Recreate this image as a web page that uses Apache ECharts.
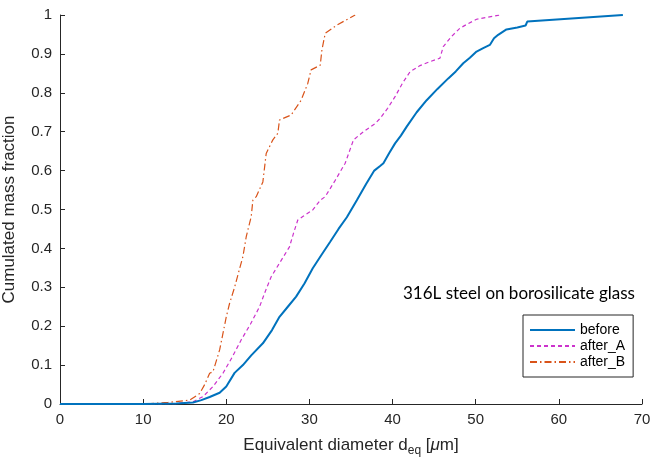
<!DOCTYPE html>
<html><head><meta charset="utf-8">
<script src="https://cdn.jsdelivr.net/npm/echarts@6/dist/echarts.min.js"></script>
<style>html,body{margin:0;padding:0;background:#fff}#c{width:650px;height:459px}</style>
</head><body><div id="c"></div>
<script>
const beforeX = [0, 5, 10, 14, 16, 17, 18, 19.2, 20, 21, 22, 23, 24.4, 25.5, 26.4, 27.4, 28.4, 29.4, 30.4, 31.5, 32.5, 33.5, 34.5, 35.7, 36.8, 37.8, 38.5, 38.9, 39.6, 40.3, 41, 41.7, 42.9, 44.1, 45.4, 46.7, 47.6, 48.5, 49.3, 50.1, 50.9, 51.7, 52.2, 52.7, 53.7, 55, 56.0, 56.2, 67.7];
const beforeY = [0, 0, 0, 0.001, 0.004, 0.01, 0.018, 0.029, 0.045, 0.08, 0.1, 0.125, 0.156, 0.19, 0.224, 0.25, 0.276, 0.31, 0.349, 0.385, 0.417, 0.45, 0.48, 0.524, 0.565, 0.6, 0.612, 0.619, 0.645, 0.67, 0.69, 0.713, 0.75, 0.781, 0.81, 0.837, 0.855, 0.876, 0.89, 0.906, 0.915, 0.923, 0.94, 0.949, 0.963, 0.968, 0.973, 0.983, 1.0];
const afterAX = [0, 10, 14, 16, 17.2, 18.4, 19.6, 20.7, 21.8, 22.9, 24.0, 24.7, 25.4, 26.4, 27.6, 28.1, 28.6, 29.2, 30.4, 31.3, 31.9, 33.1, 34.3, 35.3, 36.5, 37.9, 38.5, 39.4, 40.3, 41.2, 42.1, 43.3, 44.5, 45.7, 46.1, 47.1, 48.1, 49.1, 50.1, 52.9];
const afterAY = [0, 0, 0.001, 0.006, 0.019, 0.045, 0.079, 0.12, 0.165, 0.205, 0.25, 0.29, 0.327, 0.362, 0.404, 0.44, 0.473, 0.482, 0.499, 0.524, 0.533, 0.575, 0.619, 0.679, 0.70, 0.721, 0.734, 0.76, 0.79, 0.825, 0.854, 0.87, 0.88, 0.889, 0.919, 0.945, 0.966, 0.978, 0.989, 1.0];
const afterBX = [0, 10, 13, 15.6, 16.8, 17.4, 18.0, 18.4, 19.2, 20.0, 20.4, 21.0, 21.5, 22.0, 22.4, 23.0, 23.2, 23.6, 24.4, 24.8, 25.6, 26.2, 26.4, 27.8, 29.0, 29.8, 30.2, 31.3, 31.5, 31.9, 33.3, 35.5];
const afterBY = [0, 0, 0.004, 0.01, 0.027, 0.05, 0.079, 0.083, 0.139, 0.224, 0.259, 0.30, 0.34, 0.379, 0.43, 0.482, 0.524, 0.533, 0.571, 0.644, 0.679, 0.696, 0.73, 0.743, 0.781, 0.824, 0.859, 0.871, 0.91, 0.953, 0.974, 1.0];
const seriesNames = ['before', 'after_A', 'after_B'];
const annotation = '316L steel on borosilicate glass';

const zip = (xs, ys) => xs.map((x, i) => [x, ys[i]]);
const FONT = 'Liberation Sans';
const AX = '#262626';
const chart = echarts.init(document.getElementById('c'), null, {renderer: 'canvas'});
chart.setOption({
  animation: false,
  backgroundColor: '#fff',
  textStyle: {fontFamily: FONT},
  grid: {left: 60, right: 8, top: 15, bottom: 55, containLabel: false, outerBoundsMode: 'none'},
  xAxis: {
    type: 'value', min: 0, max: 70, interval: 10,
    axisLine: {lineStyle: {color: AX, width: 1}},
    axisTick: {inside: true, length: 5, lineStyle: {color: AX}},
    splitLine: {show: false},
    axisLabel: {color: AX, fontSize: 15, fontFamily: FONT, margin: 8},
    name: '{t|Equivalent diameter d}{s|eq}{t| [}{m|μ}{t|m]}',
    nameLocation: 'middle', nameGap: 29,
    nameTextStyle: {
      rich: {
        t: {fontSize: 17, color: AX, fontFamily: FONT},
        s: {fontSize: 12, color: AX, fontFamily: FONT, padding: [12, 0, 0, 0]},
        m: {fontSize: 17, color: AX, fontFamily: FONT, fontStyle: 'italic'}
      }
    }
  },
  yAxis: {
    type: 'value', min: 0, max: 1, interval: 0.1,
    axisLine: {show: true, lineStyle: {color: AX, width: 1}},
    axisTick: {show: true, inside: true, length: 5, lineStyle: {color: AX}},
    splitLine: {show: false},
    axisLabel: {color: AX, fontSize: 15, fontFamily: FONT, margin: 8,
      formatter: v => (Math.round(v * 10) / 10).toString()},
    name: 'Cumulated mass fraction', nameLocation: 'middle', nameGap: 42,
    nameTextStyle: {fontSize: 17, color: AX, fontFamily: FONT}
  },
  legend: {
    orient: 'vertical', left: 523, top: 315,
    backgroundColor: '#fff', borderColor: AX, borderWidth: 1, borderRadius: 0,
    padding: [8, 8, 8, 6], itemGap: 2, itemWidth: 45, itemHeight: 14,
    itemStyle: {opacity: 0},
    textStyle: {fontSize: 14, color: '#000', fontFamily: FONT},
    data: seriesNames
  },
  graphic: [{
    type: 'text', left: 403, top: 285,
    style: {text: annotation, fontSize: 17, fill: '#000', fontFamily: 'Lato'}
  }],
  series: [
    {name: seriesNames[0], type: 'line', symbol: 'none', data: zip(beforeX, beforeY),
     lineStyle: {color: '#0072BD', width: 2}, itemStyle: {color: '#0072BD'}, z: 3},
    {name: seriesNames[1], type: 'line', symbol: 'none', data: zip(afterAX, afterAY),
     lineStyle: {color: '#CC33CC', width: 1.2, type: [4, 3]}, itemStyle: {color: '#CC33CC'}, z: 2},
    {name: seriesNames[2], type: 'line', symbol: 'none', data: zip(afterBX, afterBY),
     lineStyle: {color: '#D95319', width: 1.2, type: [7, 3, 1.5, 3]}, itemStyle: {color: '#D95319'}, z: 2}
  ]
});
</script></body></html>
